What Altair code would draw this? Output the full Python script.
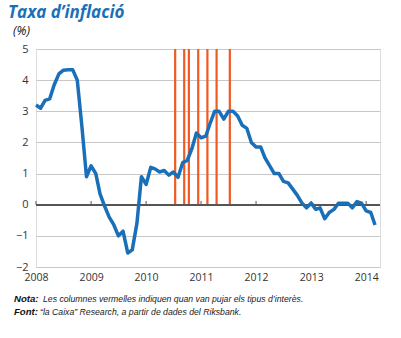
import altair as alt
import pandas as pd

# Monthly inflation (%), Jan 2008 .. Mar 2014
values = [
    3.2, 3.1, 3.35, 3.4, 3.85, 4.2, 4.32, 4.33, 4.33, 4.0, 2.5, 0.9,      # 2008
    1.25, 1.0, 0.35, -0.05, -0.4, -0.65, -1.0, -0.85, -1.55, -1.45, -0.6, 0.9,  # 2009
    0.65, 1.2, 1.15, 1.05, 1.1, 0.95, 1.05, 0.88, 1.35, 1.42, 1.8, 2.3,   # 2010
    2.15, 2.2, 2.6, 3.0, 3.0, 2.75, 3.0, 3.0, 2.85, 2.55, 2.45, 2.0,      # 2011
    1.85, 1.85, 1.5, 1.25, 1.0, 1.0, 0.75, 0.7, 0.5, 0.3, 0.05, -0.1,     # 2012
    0.05, -0.15, -0.1, -0.45, -0.25, -0.15, 0.05, 0.05, 0.05, -0.1, 0.1, 0.05,  # 2013
    -0.2, -0.25, -0.65,                                                    # 2014
]
dates = pd.date_range("2008-01-01", periods=len(values), freq="MS")

# Riksbank rate hikes
hikes = ["2010-07-13", "2010-09-11", "2010-10-12", "2010-12-13",
         "2011-02-12", "2011-04-14", "2011-07-11"]
years = ["2008-01-01", "2009-01-01", "2010-01-01", "2011-01-01",
         "2012-01-01", "2013-01-01", "2014-01-01"]
y_ticks = [-2, -1, 0, 1, 2, 3, 4, 5]

title_text = "Taxa d\u2019inflació"
unit_text = "(%)"
note_label = "Nota:"
note_text = "Les columnes vermelles indiquen quan van pujar els tipus d\u2019interès."
src_label = "Font:"
src_text = "\u201cla Caixa\u201d Research, a partir de dades del Riksbank."

BLUE = "#1a70b8"
ORANGE = "#f05a22"
FONT = "Open Sans"
NARROW = "Liberation Sans"

df = pd.DataFrame({"date": dates, "value": values})
hk = pd.DataFrame({"date": pd.to_datetime(hikes), "top": 5, "bottom": 0})
yr = pd.DataFrame({"date": pd.to_datetime(years), "y0": 0, "y1": 0.12})

xscale = alt.Scale(domain=["2008-01-01", "2014-04-03"])
yscale = alt.Scale(domain=[-2, 5], nice=False, zero=False)

xaxis = alt.Axis(values=[pd.Timestamp(y).isoformat() for y in years], format="%Y",
                 grid=False, domain=False, ticks=False, labelPadding=5,
                 labelFontSize=10.5, labelColor="#333", labelFont=FONT, title=None,
                 labelAlign="center")
yaxis = alt.Axis(values=y_ticks, grid=True, gridColor="#c8c8c8", gridWidth=1,
                 domain=False, ticks=False, labelPadding=8, labelFontSize=11,
                 labelColor="#333", labelFont=FONT, title=None, labelOverlap=False)

X = alt.X("date:T", scale=xscale, axis=xaxis)

grid = alt.Chart(df).mark_point(opacity=0).encode(
    x=X, y=alt.Y("value:Q", scale=yscale, axis=yaxis))

bars = alt.Chart(hk).mark_rule(color=ORANGE, strokeWidth=2.2).encode(
    x=X, y=alt.Y("top:Q", scale=yscale, axis=yaxis), y2="bottom:Q")

zero = alt.Chart(df).mark_rule(color="#555", strokeWidth=1.2).encode(
    y=alt.datum(0, scale=yscale, axis=yaxis))

yticks = alt.Chart(yr).mark_rule(color="#555", strokeWidth=1).encode(
    x=X, y=alt.Y("y0:Q", scale=yscale, axis=yaxis), y2="y1:Q")

line = alt.Chart(df).mark_line(color=BLUE, strokeWidth=3.5, strokeJoin="round").encode(
    x=X, y=alt.Y("value:Q", scale=yscale, axis=yaxis))

def txt(s, x, y, size, color="#222", weight="normal", style="italic", font=FONT):
    return alt.Chart(pd.DataFrame({"t": [s]})).mark_text(
        align="left", baseline="alphabetic", fontSize=size, fontWeight=weight,
        fontStyle=style, font=font, color=color).encode(
        text="t:N", x=alt.value(x), y=alt.value(y))

texts = [
    txt(title_text, -28, -31, 17, BLUE, "bold"),
    txt(unit_text, -23, -14, 12.5, "#222"),
    txt(note_label, -22, 253, 9.6, "#111", "bold", font=NARROW),
    txt(note_text, 7, 253, 8.7, "#222", font=NARROW),
    txt(src_label, -22, 266, 9.6, "#111", "bold", font=NARROW),
    txt(src_text, 4, 266, 8.7, "#222", font=NARROW),
]

chart = alt.layer(grid, bars, zero, yticks, line, *texts).properties(
    width=344, height=218,
    autosize=alt.AutoSizeParams(type="none"),
    padding={"left": 36, "top": 49, "right": 21, "bottom": 71},
).configure_view(stroke=None).configure(background="white")

chart.save("out.html", embed_options={"renderer": "svg", "actions": False})
